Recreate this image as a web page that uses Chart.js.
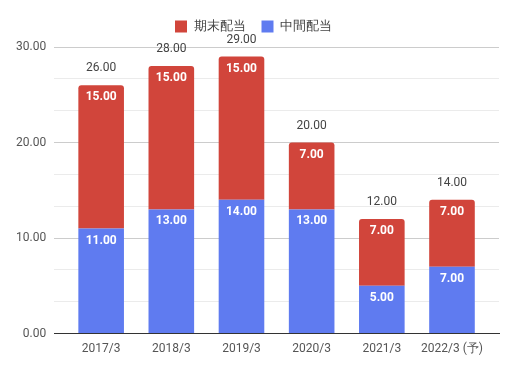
<!DOCTYPE html>
<html>
<head>
<meta charset="utf-8">
<script src="https://cdn.jsdelivr.net/npm/chart.js@4.4.0/dist/chart.umd.min.js"></script>
<style>
  html, body { margin: 0; padding: 0; background: #fff; }
  #wrap { width: 510px; height: 368px; }
</style>
</head>
<body>
<div id="wrap"><canvas id="chart"></canvas></div>
<script>
// 配当の推移（円）
const categories = ['2017/3', '2018/3', '2019/3', '2020/3', '2021/3', '2022/3 (予)'];
const interimDiv = [11, 13, 14, 13, 5, 7];   // 中間配当
const finalDiv = [15, 15, 15, 7, 7, 7];      // 期末配当
const yMajorTicks = [0, 10, 20, 30];

const RED = '#d1453b';
const BLUE = '#5f7bf0';

// labels inside each segment + totals above bars
const valueLabels = {
  id: 'valueLabels',
  afterDatasetsDraw(chart) {
    const ctx = chart.ctx;
    ctx.save();
    ctx.textAlign = 'center';
    ctx.textBaseline = 'middle';
    chart.data.datasets.forEach((ds, di) => {
      const meta = chart.getDatasetMeta(di);
      meta.data.forEach((bar, i) => {
        ctx.font = 'bold 12px Roboto';
        ctx.fillStyle = '#fff';
        ctx.fillText(ds.data[i].toFixed(2), bar.x, bar.y + 12);
      });
    });
    const topMeta = chart.getDatasetMeta(1);
    topMeta.data.forEach((bar, i) => {
      const total = interimDiv[i] + finalDiv[i];
      ctx.font = '12px Roboto';
      ctx.fillStyle = '#444';
      ctx.fillText(total.toFixed(2), bar.x, bar.y - 17);
    });
    ctx.restore();
  }
};

// a bit more room under the legend
const legendGap = {
  id: 'legendGap',
  beforeInit(chart) {
    const fit = chart.legend.fit;
    chart.legend.fit = function () {
      fit.bind(chart.legend)();
      this.height += 4;
    };
  }
};

new Chart(document.getElementById('chart'), {
  type: 'bar',
  data: {
    labels: categories,
    datasets: [
      { label: '中間配当', data: interimDiv, backgroundColor: BLUE },
      { label: '期末配当', data: finalDiv, backgroundColor: RED, borderRadius: { topLeft: 3, topRight: 3 }, borderSkipped: false }
    ]
  },
  options: {
    responsive: true,
    maintainAspectRatio: false,
    animation: false,
    layout: { padding: { left: 8, right: 11, top: 4, bottom: 12 } },
    datasets: { bar: { categoryPercentage: 0.65, barPercentage: 1 } },
    plugins: {
      legend: {
        position: 'top',
        reverse: true,
        labels: {
          boxWidth: 12, boxHeight: 12, padding: 16,
          color: '#444',
          font: { family: 'Roboto', size: 13 }
        }
      },
      tooltip: { enabled: false }
    },
    scales: {
      x: {
        stacked: true,
        // leave some empty room at both ends of the category axis
        afterBuildTicks(scale) {
          scale._startValue -= 0.17;
          scale._valueRange += 0.34;
        },
        grid: { display: false },
        border: { color: '#333', width: 1 },
        ticks: { color: '#555', font: { family: 'Roboto', size: 12 }, padding: 0 }
      },
      y: {
        stacked: true,
        min: 0,
        max: 30,
        border: { display: false },
        afterBuildTicks(scale) {
          const ticks = [];
          for (let k = 0; k < yMajorTicks.length; k++) {
            ticks.push({ value: yMajorTicks[k] });
            if (k < yMajorTicks.length - 1) {
              const step = (yMajorTicks[k + 1] - yMajorTicks[k]) / 3;
              ticks.push({ value: yMajorTicks[k] + step });
              ticks.push({ value: yMajorTicks[k] + 2 * step });
            }
          }
          scale.ticks = ticks;
        },
        grid: {
          drawTicks: false,
          color: (c) => {
            const v = c.tick ? c.tick.value : 0;
            return yMajorTicks.includes(v) ? '#cccccc' : '#ebebeb';
          }
        },
        ticks: {
          color: '#555',
          padding: 8,
          font: { family: 'Roboto', size: 12 },
          callback: (v) => yMajorTicks.includes(v) ? v.toFixed(2) : ''
        }
      }
    }
  },
  plugins: [valueLabels, legendGap]
});
</script>
</body>
</html>
